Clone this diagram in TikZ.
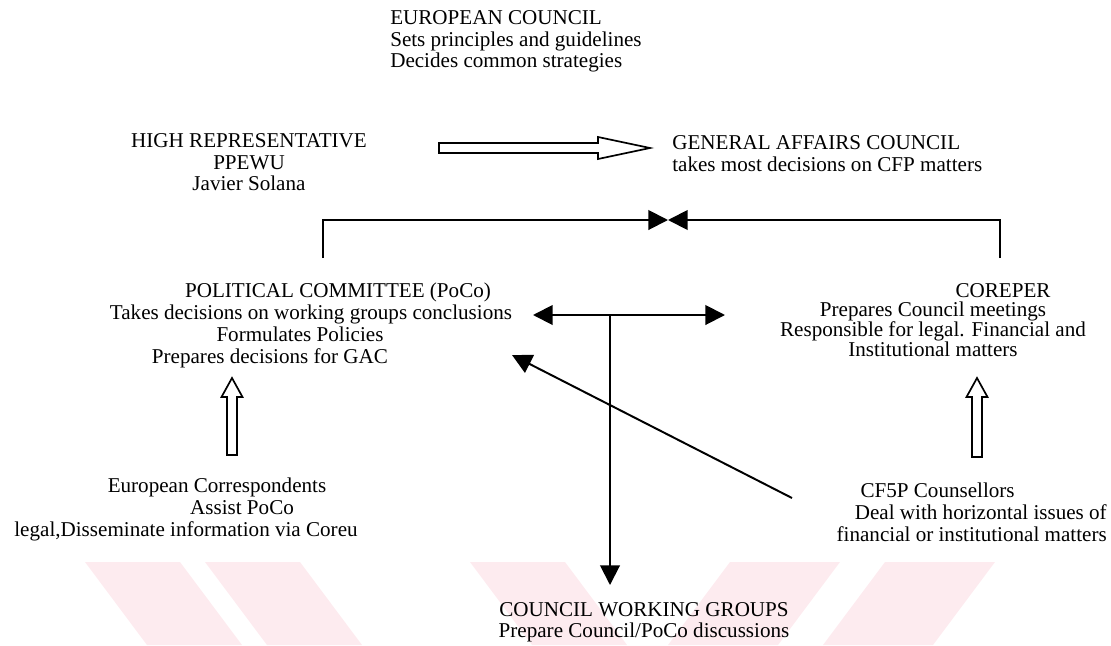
\documentclass[tikz,border=0pt]{standalone}
\usepackage{fontspec}
\setmainfont{Liberation Serif}
\usetikzlibrary{arrows.meta, calc, positioning}
\definecolor{wmpink}{RGB}{253,235,239}

\begin{document}
\begin{tikzpicture}[x=0.025cm, y=-0.025cm, >={Triangle[length=14pt, width=14pt]},
    txt/.style={inner sep=0pt, align=center, font=\fontsize{15}{15.5}\selectfont},
    conn/.style={line width=1.4pt},
    hollow/.style={draw, line width=1.2pt, fill=white}]
    \useasboundingbox (0,0) rectangle (1111,645);

    % Faint watermark bands
    \foreach \a/\b in {85/180, 205/300, 470/565} {
        \fill[wmpink] (\a,562) -- (\b,562) -- (\b+62,645) -- (\a+62,645) -- cycle;
    }
    \foreach \a/\b in {730/840, 885/995} {
        \fill[wmpink] (\a,562) -- (\b,562) -- (\b-62,645) -- (\a-62,645) -- cycle;
    }

    % Top bodies
    \node[txt, align=left, anchor=north west] (ec) at (390,10)
        {EUROPEAN COUNCIL\\Sets principles and guidelines\\Decides common strategies};
    \node[txt, anchor=north] (hr) at (249,133) {HIGH REPRESENTATIVE\\PPEWU\\Javier Solana};
    \node[txt, align=left, anchor=north west] (gac) at (672,135)
        {GENERAL AFFAIRS COUNCIL\\takes most decisions on CFP matters};

    % Committees
    \node[txt, anchor=north] (poco) at (300,283)
        {\hspace*{1.9cm}POLITICAL COMMITTEE (PoCo)\\\hspace*{0.55cm}Takes decisions on working groups conclusions\\Formulates Policies\hspace*{1.25cm}\\Prepares decisions for GAC\hspace*{1.5cm}};
    \node[txt, anchor=north, font=\fontsize{15}{14}\selectfont] (corep) at (933,283)
        {\hspace*{3.5cm}COREPER\\Prepares Council meetings\\Responsible for legal. Financial and\\Institutional matters};

    % Support bodies
    \node[txt, anchor=north] (eco) at (217,478)
        {European Correspondents\\\hspace*{1.25cm}Assist PoCo\\legal,Disseminate information via Coreu\hspace*{1.55cm}};
    \node[txt, align=right, anchor=north east] (cf5p) at (1107,483)
        {CF5P Counsellors\hspace*{2.3cm}\\Deal with horizontal issues of\\financial or institutional matters};
    \node[txt, anchor=north, font=\fontsize{15}{15}\selectfont] (cwg) at (644,602)
        {COUNCIL WORKING GROUPS\\Prepare Council/PoCo discussions};

    % Anchor points of the connectors
    \coordinate (hrOut) at (439,148);
    \coordinate (gacIn) at (650,148);
    \coordinate (pocoUp) at (323,258);
    \coordinate (coreUp) at (1000,258);
    \coordinate (meet) at (668,220);
    \coordinate (pocoIn) at (533,315);
    \coordinate (coreIn) at (725,315);
    \coordinate (split) at (610,315);
    \coordinate (cwgIn) at (610,585);
    \coordinate (cf5pOut) at (792,498);
    \coordinate (pocoSide) at (512,355);

    % Hollow arrows
    \draw[hollow] ($(hrOut)+(0,-5)$) -- ($(gacIn)+(-52,-5)$) -- ($(gacIn)+(-52,-11)$) -- (gacIn)
        -- ($(gacIn)+(-52,11)$) -- ($(gacIn)+(-52,5)$) -- ($(hrOut)+(0,5)$) -- cycle;
    \foreach \tx/\by in {232/455, 977/457} {
        \draw[hollow] (\tx-5,\by) -- (\tx-5,397) -- (\tx-10.5,397) -- (\tx,378)
            -- (\tx+10.5,397) -- (\tx+5,397) -- (\tx+5,\by) -- cycle;
    }

    % Connectors
    \draw[conn, ->] (pocoUp) |- (meet);
    \draw[conn, ->] (coreUp) |- (meet);
    \draw[conn, <->] (pocoIn) -- (coreIn);
    \draw[conn, ->] (split) -- (cwgIn);
    \draw[conn, ->] (cf5pOut) -- (pocoSide);
\end{tikzpicture}
\end{document}
